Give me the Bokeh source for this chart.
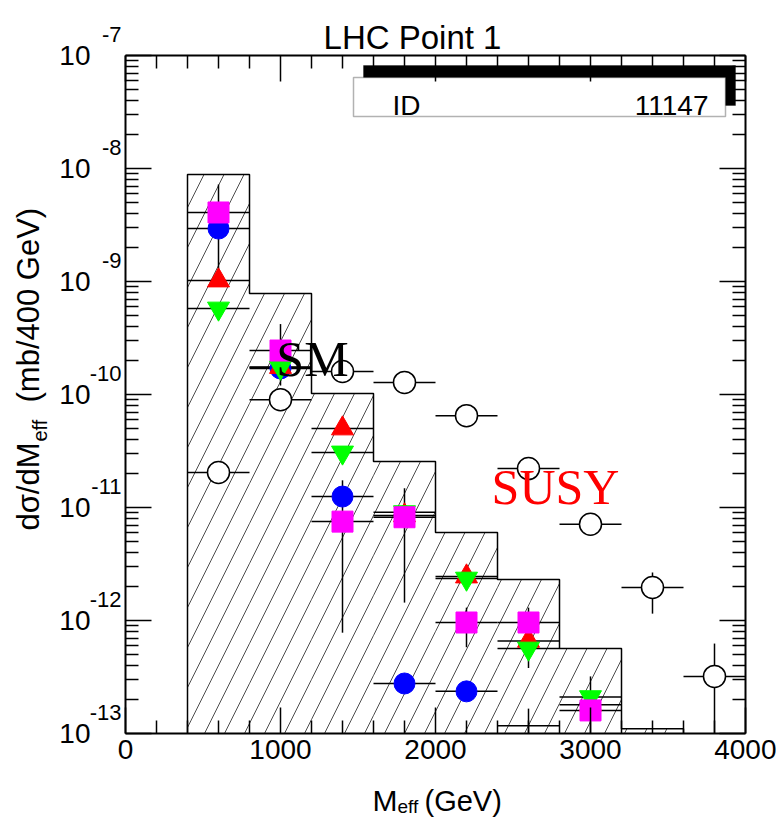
import math
from bokeh.plotting import figure
from bokeh.models import (LinearAxis, LogAxis, FixedTicker, CustomJSTickFormatter,
                          Label, BoxAnnotation, Range1d)
from bokeh.embed import file_html
from bokeh.resources import INLINE

# ---------------- data ----------------
x_major = [0, 1000, 2000, 3000, 4000]
x_minor_step = 200
y_exponents = [-13, -12, -11, -10, -9, -8, -7]

# SM histogram (hatched)
sm_edges = [400, 800, 1200, 1600, 2000, 2400, 2800, 3200, 3600]
sm_vals = [8.85e-9, 7.83e-10, 1.02e-10, 2.55e-11, 6.0e-12, 2.31e-12, 5.65e-13, 1.1e-13]

bin_half = 200  # half bin width for horizontal error bars

# open circles
susy_x = [600, 1000, 1400, 1800, 2200, 2600, 3000, 3400, 3800]
susy_y = [2.04e-11, 9.0e-11, 1.6e-10, 1.28e-10, 6.5e-11, 2.21e-11, 7.1e-12, 1.96e-12, 3.2e-13]
susy_lo = [1.9e-11, 8.3e-11, 1.5e-10, 1.2e-10, 6.1e-11, 2.05e-11, 6.6e-12, 1.15e-12, 5e-14]
susy_hi = [2.2e-11, 9.8e-11, 1.7e-10, 1.37e-10, 7.0e-11, 2.4e-11, 7.7e-12, 2.66e-12, 6.25e-13]

# blue circles
blue_x = [600, 1000, 1400, 1800, 2200]
blue_y = [2.94e-9, 1.70e-10, 1.25e-11, 2.77e-13, 2.36e-13]
blue_lo = [2.6e-9, 1.5e-10, 1.1e-11, 2.3e-13, 1.95e-13]
blue_hi = [3.3e-9, 1.9e-10, 1.4e-11, 3.3e-13, 2.8e-13]

# red up-triangles
red_x = [600, 1000, 1400, 1800, 2200, 2600, 3000]
red_y = [1.02e-9, 1.75e-10, 5.0e-11, 8.5e-12, 2.45e-12, 6.6e-13, 1.8e-13]

# green down-triangles
green_x = [600, 1000, 1400, 1800, 2200, 2600, 3000]
green_y = [5.77e-10, 1.73e-10, 3.07e-11, 9.1e-12, 2.35e-12, 5.65e-13, 2.1e-13]

# magenta squares
mag_x = [600, 1000, 1400, 1800, 2200, 2600, 3000]
mag_y = [4.08e-9, 2.45e-10, 7.5e-12, 8.2e-12, 9.6e-13, 9.6e-13, 1.6e-13]
mag_lo = [1.0e-9, 1.2e-10, 7.8e-13, 1.44e-12, 5.8e-13, 3.8e-13, 8e-14]
mag_hi = [7.2e-9, 4.2e-10, 1.74e-11, 1.48e-11, 1.3e-12, 1.3e-12, 3.2e-13]

# low tail error bar without marker
tail_x = [2600]
tail_y = [1.17e-13]
tail_lo = [5e-14]
tail_hi = [1.66e-13]

# ---------------- layout helpers (canvas pixels -> data) ----------------
W, H = 776, 818
FL, FT, FR, FB = 125, 55, 745, 733          # where the axes box sits on the canvas
XMIN, XMAX = 0, 4000
YMIN, YMAX = 1e-13, 1e-7
def xd(px):
    return XMIN + (px - FL) / (FR - FL) * (XMAX - XMIN)
def yd(py):
    lt, lb = math.log10(YMAX), math.log10(YMIN)
    return 10 ** (lt - (py - FT) / (FB - FT) * (lt - lb))

FONT = "Liberation Sans"

# the frame covers the whole canvas; axes are pinned with fixed_location
p = figure(width=W, height=H, x_range=Range1d(xd(0), xd(W)), y_range=Range1d(yd(H), yd(0)),
           y_axis_type="log", x_axis_location=None, y_axis_location=None,
           output_backend="svg", toolbar_location=None,
           min_border=0, min_border_left=0, min_border_right=0,
           min_border_top=0, min_border_bottom=0)
p.title.visible = False
p.grid.visible = False
p.outline_line_color = None
p.background_fill_color = "white"
p.border_fill_color = "white"

x_minor = [v for v in range(XMIN + x_minor_step, XMAX, x_minor_step) if v not in x_major]
xt = FixedTicker(ticks=x_major, minor_ticks=x_minor)
yt = FixedTicker(ticks=[10.0 ** e for e in y_exponents],
                 minor_ticks=[m * 10.0 ** e for e in y_exponents[:-1] for m in range(2, 10)])
blank = CustomJSTickFormatter(code="return ''")

def style(ax):
    ax.axis_line_width = 2
    ax.major_tick_in = 26
    ax.major_tick_out = 0
    ax.minor_tick_in = 13
    ax.minor_tick_out = 0
    ax.major_tick_line_width = 1.5
    ax.minor_tick_line_width = 1.5
    ax.major_label_text_font = FONT
    ax.major_label_text_color = "black"

bottom = LinearAxis(ticker=xt, fixed_location=YMIN, bounds=(XMIN, XMAX))
style(bottom)
bottom.major_label_text_font_size = "28px"
bottom.major_label_standoff = 6
p.add_layout(bottom, "below")

top = LinearAxis(ticker=xt, formatter=blank, fixed_location=YMAX, bounds=(XMIN, XMAX))
style(top)
p.add_layout(top, "above")

left = LogAxis(ticker=yt, formatter=CustomJSTickFormatter(code="return '10'"),
               fixed_location=XMIN, bounds=(YMIN, YMAX))
style(left)
left.major_label_text_font_size = "28px"
left.major_label_standoff = 35
p.add_layout(left, "left")

right = LogAxis(ticker=yt, formatter=blank, fixed_location=XMAX, bounds=(YMIN, YMAX))
style(right)
p.add_layout(right, "right")

# ---------------- SM hatched histogram ----------------
p.quad(left=sm_edges[:-1], right=sm_edges[1:], top=sm_vals, bottom=YMIN,
       fill_color=None, line_alpha=0, hatch_pattern="/", hatch_color="black",
       hatch_weight=0.7, hatch_scale=40)
ox, oy = [sm_edges[0]], [YMIN]
for i, v in enumerate(sm_vals):
    ox += [sm_edges[i], sm_edges[i + 1]]
    oy += [v, v]
ox.append(sm_edges[-1]); oy.append(YMIN)
p.line(ox, oy, line_color="black", line_width=1.5)

# ---------------- error bars ----------------
def hbars(xs, ys):
    p.segment(x0=[x - bin_half for x in xs], y0=ys, x1=[x + bin_half for x in xs], y1=ys,
              line_color="black", line_width=1.5)
def vbars(xs, lo, hi):
    p.segment(x0=xs, y0=[max(v, YMIN) for v in lo], x1=xs, y1=hi,
              line_color="black", line_width=1.5)

hbars(susy_x, susy_y); vbars(susy_x, susy_lo, susy_hi)
hbars(blue_x, blue_y); vbars(blue_x, blue_lo, blue_hi)
hbars(red_x, red_y)
hbars(green_x, green_y)
hbars(mag_x, mag_y); vbars(mag_x, mag_lo, mag_hi)
hbars(tail_x, tail_y); vbars(tail_x, tail_lo, tail_hi)

# ---------------- markers ----------------
p.scatter(susy_x, susy_y, marker="circle", size=22, fill_color="white",
          line_color="black", line_width=1.5)
p.scatter(blue_x, blue_y, marker="circle", size=21, fill_color="#0000ff", line_color="#0000ff")
p.scatter(red_x, red_y, marker="triangle", size=22, fill_color="#ff0000", line_color="#ff0000")
p.scatter(green_x, green_y, marker="inverted_triangle", size=22, fill_color="#00ff00", line_color="#00ff00")
p.scatter(mag_x, mag_y, marker="square", size=21, fill_color="#ff00ff", line_color="#ff00ff")

# ---------------- texts ----------------
def label(**kw):
    kw.setdefault("text_color", "black")
    kw.setdefault("text_font", FONT)
    p.add_layout(Label(**kw))

label(x=xd(312), y=yd(358), text="SM", text_font="Liberation Serif", text_font_size="50px",
      text_align="center", text_baseline="middle")
label(x=xd(555), y=yd(486), text="SUSY", text_font="Liberation Serif", text_font_size="50px",
      text_color="#ff0000", text_align="center", text_baseline="middle")

# ID box
p.add_layout(BoxAnnotation(left=xd(363), right=xd(735), top=yd(65), bottom=yd(105),
                           fill_color="black", fill_alpha=1, line_color="black",
                           level="underlay"))
p.add_layout(BoxAnnotation(left=xd(353), right=xd(725), top=yd(77), bottom=yd(116),
                           fill_color="white", fill_alpha=1, line_color="black",
                           line_width=1.5, level="underlay"))
label(x=xd(392), y=yd(105), text="ID", text_font_size="28px",
      text_align="left", text_baseline="alphabetic")
label(x=xd(708), y=yd(105), text="11147", text_font_size="28px",
      text_align="right", text_baseline="alphabetic")

# title
label(x=xd(412), y=yd(37), text="LHC Point 1", text_font_size="33px",
      text_align="center", text_baseline="alphabetic")

# y exponents
for e in y_exponents:
    label(x=xd(121), y=10.0 ** (e + 21 / 113), text=str(e),
          text_font_size="22px", text_align="right", text_baseline="middle")

# x axis title
label(x=xd(372), y=yd(800), text="M", text_font_size="30px",
      text_align="left", text_baseline="alphabetic")
label(x=xd(397), y=yd(806), text="eff", text_font_size="19px",
      text_align="left", text_baseline="alphabetic")
label(x=xd(424), y=yd(800), text="(GeV)", text_font_size="29px",
      text_align="left", text_baseline="alphabetic")

# y axis title (rotated)
ang = math.pi / 2
label(x=xd(28), y=yd(530), text="dσ/dM", text_font_size="31px",
      angle=ang, text_align="left", text_baseline="middle")
label(x=xd(39), y=yd(441), text="eff", text_font_size="20px",
      angle=ang, text_align="left", text_baseline="middle")
label(x=xd(28), y=yd(402), text="(mb/400 GeV)", text_font_size="31px",
      angle=ang, text_align="left", text_baseline="middle")

open("out.html", "w").write(file_html(p, INLINE))
